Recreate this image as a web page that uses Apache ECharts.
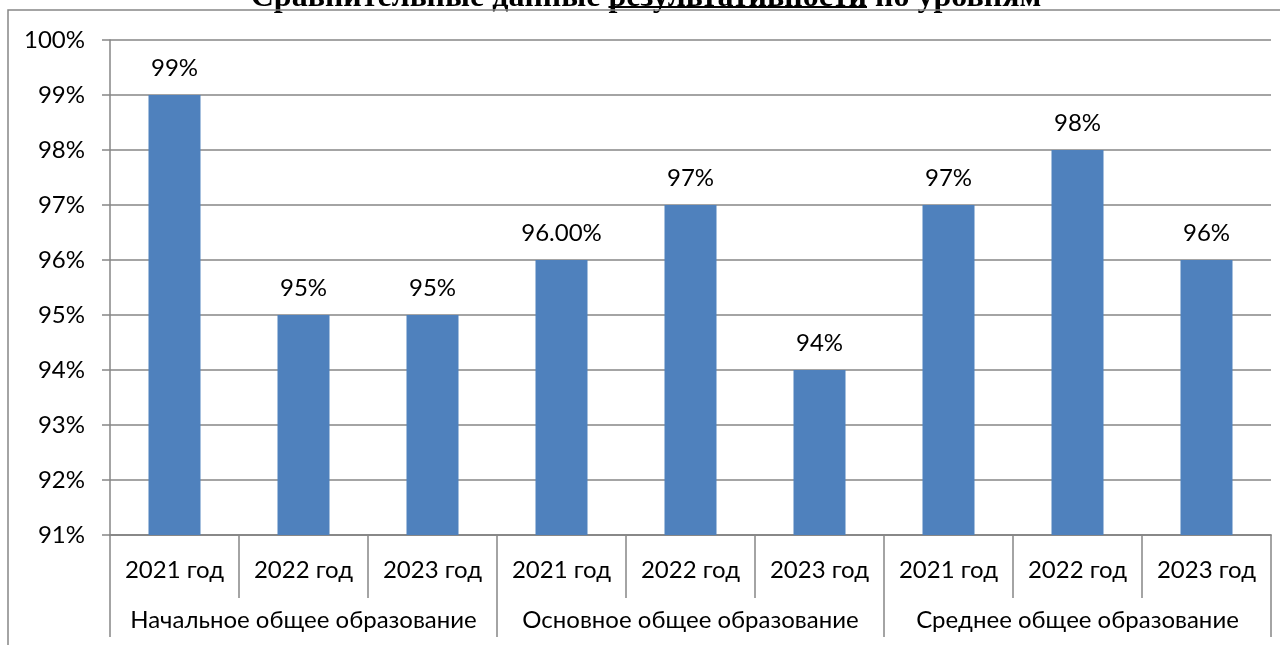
<!DOCTYPE html>
<html><head><meta charset="utf-8">
<script src="https://cdn.jsdelivr.net/npm/echarts@6/dist/echarts.min.js"></script>
<style>html,body{margin:0;padding:0;background:#fff}#c{width:1280px;height:645px}</style>
</head><body><div id="c"></div>
<script>
const titleParts = ['Сравнительные данные ', 'результативности', ' по уровням'];
const years = ['2021 год','2022 год','2023 год','2021 год','2022 год','2023 год','2021 год','2022 год','2023 год'];
const groups = ['Начальное общее образование','Основное общее образование','Среднее общее образование'];
const values = [99, 95, 95, 96, 97, 94, 97, 98, 96];
const valueLabels = ['99%','95%','95%','96.00%','97%','94%','97%','98%','96%'];
const yMin = 91, yMax = 100, yStep = 1;

const FONT = 'Lato, "Noto Sans", sans-serif';
const FS = 24;
const GRAY = '#868686';
const titleFont = 'bold 32px "Liberation Serif", "Times New Roman", serif';

const cv = document.createElement('canvas').getContext('2d');
cv.font = titleFont;
const fullText = titleParts.join('');
const W = cv.measureText(fullText).width;
const P = cv.measureText(titleParts[0]).width;
const U = cv.measureText(titleParts[1]).width;
const cx = 646;
const ux0 = cx - W/2 + P;

const chart = echarts.init(document.getElementById('c'), null, {renderer:'canvas'});
chart.setOption({
  animation: false,
  grid: {left:110, right:9, top:40, bottom:110, containLabel:false},
  graphic: [
    {type:'rect', shape:{x:8, y:10, width:1400, height:1000}, style:{fill:null, stroke:GRAY, lineWidth:1.5}, z:10},
    {type:'text', style:{text: fullText, x:cx, y:14, textAlign:'center', textVerticalAlign:'bottom', font: titleFont, fill:'#000'}, z:5},
    {type:'rect', shape:{x:ux0, y:6, width:U, height:2}, style:{fill:'#000'}, z:6}
  ],
  xAxis: [
    {type:'category', data: years, position:'bottom',
     axisLine:{show:true, lineStyle:{color:GRAY, width:1.5}},
     axisTick:{show:true, interval:0, length:63, lineStyle:{color:GRAY, width:1.5}},
     axisLabel:{interval:0, margin:23, fontSize:FS, color:'#000', fontFamily:FONT}},
    {type:'category', data: groups, position:'bottom', offset:0,
     axisLine:{show:true, lineStyle:{color:GRAY, width:1.5}},
     axisTick:{show:true, interval:0, length:102, lineStyle:{color:GRAY, width:1.5}},
     axisLabel:{interval:0, margin:73, fontSize:FS, color:'#000', fontFamily:FONT}}
  ],
  yAxis: {type:'value', min:yMin, max:yMax, interval:yStep,
    axisLine:{show:true, lineStyle:{color:GRAY, width:1.5}},
    axisTick:{show:true, length:8, lineStyle:{color:GRAY, width:1.5}},
    axisLabel:{formatter:'{value}%', fontSize:FS, color:'#000', margin:25, fontFamily:FONT},
    splitLine:{show:true, lineStyle:{color:GRAY, width:1.5}}},
  series: [{type:'bar', xAxisIndex:0, data: values, barWidth:52,
    itemStyle:{color:'#4F81BD'},
    label:{show:true, position:'top', distance:15, fontSize:FS, color:'#000', fontFamily:FONT,
      formatter: p => valueLabels[p.dataIndex]}}]
});
</script></body></html>
